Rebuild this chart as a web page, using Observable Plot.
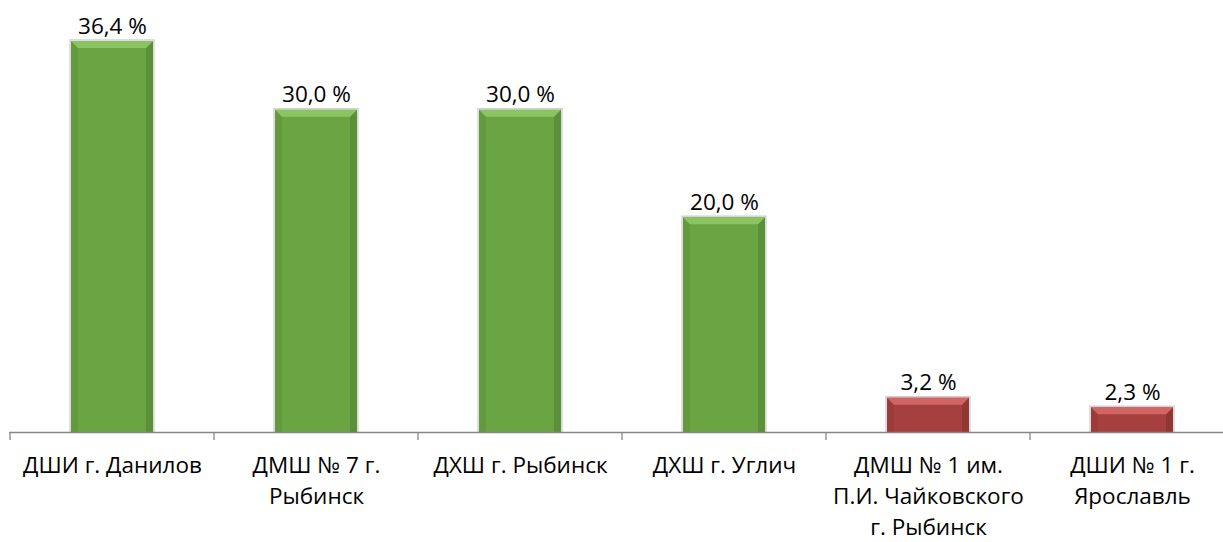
<!DOCTYPE html>
<html><head><meta charset="utf-8">
<script src="https://cdn.jsdelivr.net/npm/d3@7"></script>
<script src="https://cdn.jsdelivr.net/npm/@observablehq/plot@0.6"></script>
<style>body{margin:0;background:#fff;font-family:"Open Sans",sans-serif}</style>
</head><body><div id="chart"></div>
<script>
const categories = ["ДШИ г. Данилов","ДМШ № 7 г. Рыбинск","ДХШ г. Рыбинск","ДХШ г. Углич","ДМШ № 1 им. П.И. Чайковского г. Рыбинск","ДШИ № 1 г. Ярославль"];
const tickLabels = ["ДШИ г. Данилов","ДМШ № 7 г.\nРыбинск","ДХШ г. Рыбинск","ДХШ г. Углич","ДМШ № 1 им.\nП.И. Чайковского\nг. Рыбинск","ДШИ № 1 г.\nЯрославль"];
const values = [36.4, 30.0, 30.0, 20.0, 3.2, 2.3];
const valueLabels = ["36,4 %","30,0 %","30,0 %","20,0 %","3,2 %","2,3 %"];
const groups = ["good","good","good","good","low","low"];

const palette = {
  good: {fill: "#6aa443", light: "#8cc463", dark: "#578a35", edge: "#4f7d31"},
  low:  {fill: "#a6403f", light: "#d06563", dark: "#8c3433", edge: "#7e2f2e"}
};

const data = categories.map((c, i) => ({cat: c, value: values[i], label: valueLabels[i], tick: tickLabels[i], group: groups[i]}));

const FONT = 22.5;

function getBandwidth(scales) {
  let bw = scales.x && scales.x.bandwidth;
  if (typeof bw === "function") bw = bw();
  if (!(bw > 0) && scales.scales && scales.scales.x) bw = scales.scales.x.bandwidth;
  return bw;
}

function bevelRender(index, scales, vals, dimensions, context) {
  const g = d3.create("svg:g");
  const bw = getBandwidth(scales);
  const b = 7;
  for (const i of index) {
    const d = data[i];
    const p = palette[d.group];
    const x0 = vals.x ? vals.x[i] : vals.x1[i];
    const x1 = x0 + bw;
    const yTop = Math.min(vals.y1[i], vals.y2[i]), yBot = Math.max(vals.y1[i], vals.y2[i]);
    const bb = Math.min(b, (yBot - yTop) / 2);
    g.append("rect").attr("x", x0 - 1).attr("y", yTop - 1).attr("width", bw + 2).attr("height", yBot - yTop + 1)
      .attr("fill", "none").attr("stroke", "#9a9a9a").attr("stroke-opacity", 0.45).attr("stroke-width", 1.5);
    g.append("rect").attr("x", x0).attr("y", yTop).attr("width", bw).attr("height", yBot - yTop).attr("fill", p.fill);
    g.append("polygon").attr("points", `${x0},${yTop} ${x0 + bb},${yTop + bb} ${x0 + bb},${yBot} ${x0},${yBot}`)
      .attr("fill", p.dark).attr("fill-opacity", 0.35);
    g.append("polygon").attr("points", `${x1},${yTop} ${x1 - bb},${yTop + bb} ${x1 - bb},${yBot} ${x1},${yBot}`)
      .attr("fill", p.edge).attr("fill-opacity", 0.55);
    g.append("polygon").attr("points", `${x0},${yTop} ${x1},${yTop} ${x1 - bb},${yTop + bb} ${x0 + bb},${yTop + bb}`)
      .attr("fill", p.light);
  }
  return g.node();
}

function boundaryTicks(index, scales, vals, dimensions, context) {
  const g = d3.create("svg:g");
  const x = scales.x;
  const bw = getBandwidth(scales);
  const xs = categories.map(c => x(c));
  const st = xs[1] - xs[0];
  const off = (st - bw) / 2;
  const y0 = scales.y(0);
  const pos = xs.map(v => v - off);
  pos.push(xs[xs.length - 1] + bw + off);
  for (const px of pos) {
    g.append("line").attr("x1", px).attr("x2", px).attr("y1", y0).attr("y2", y0 + 8)
      .attr("stroke", "#878787").attr("stroke-width", 1.3);
  }
  return g.node();
}

const chart = Plot.plot({
  width: 1223,
  height: 542,
  marginLeft: 9,
  marginRight: 0,
  marginTop: 0,
  marginBottom: 110,
  style: {fontFamily: "'Open Sans', sans-serif", fontSize: FONT + "px", color: "#000", background: "#fff"},
  x: {domain: categories, range: [9, 1235], paddingInner: 0.6, paddingOuter: 0.3, axis: null},
  y: {domain: [0, 36.4], range: [432, 41], axis: null},
  marks: [
    Plot.barY(data, {x: "cat", y: "value", render: bevelRender}),
    Plot.ruleY([0], {stroke: "#878787", strokeWidth: 1.3}),
    Plot.ruleY([0], {strokeOpacity: 0, render: boundaryTicks}),
    Plot.text(data, {x: "cat", y: "value", text: "label", lineAnchor: "bottom", dy: -8, fontSize: FONT, fill: "#000"}),
    Plot.text(data, {x: "cat", frameAnchor: "bottom", text: "tick", lineAnchor: "top", dy: 18, lineHeight: 1.38, fontSize: FONT, fill: "#000"})
  ]
});
document.getElementById("chart").appendChild(chart);
</script>
</body></html>
